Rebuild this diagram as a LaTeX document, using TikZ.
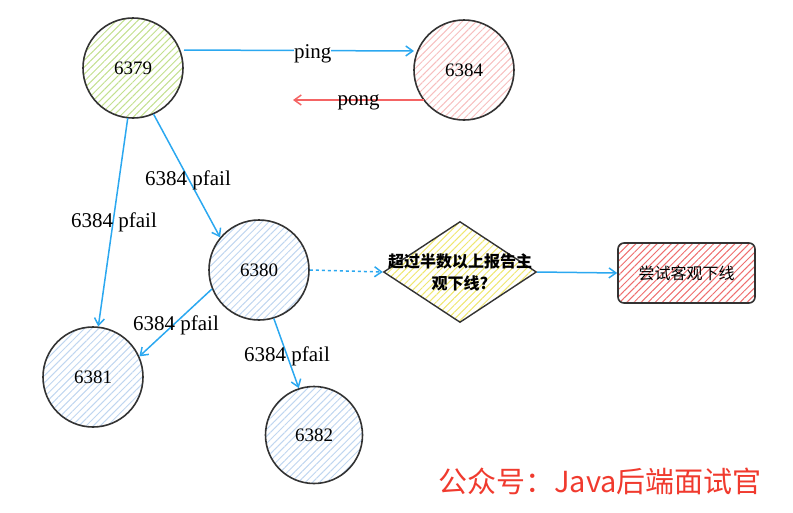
\documentclass[tikz,border=0pt]{standalone}
\usepackage{fontspec}
\setmainfont{Liberation Serif}
\newfontfamily\cjk{Noto Sans CJK SC}
\usetikzlibrary{arrows.meta,patterns.meta,shapes.geometric}
\definecolor{edgeblue}{HTML}{2BA8F0}
\definecolor{pongred}{HTML}{F46464}
\definecolor{ink}{HTML}{333333}
\definecolor{hgreen}{HTML}{C3E08F}
\definecolor{hpink}{HTML}{F7BFBF}
\definecolor{hblue}{HTML}{C0D6F0}
\definecolor{hyellow}{HTML}{EFE770}
\definecolor{hred}{HTML}{EE6E6E}
\definecolor{footred}{HTML}{F03A2E}
\tikzset{
  redis/.style={circle, draw=ink, line width=1.6pt, minimum size=#1, inner sep=0pt, font=\fontsize{19}{21}\selectfont},
  redis/.default=100pt,
  hatch/.style={pattern={Lines[angle=45,distance=5pt,line width=1pt]}, pattern color=#1},
  link/.style={draw=edgeblue, line width=1.5pt, -{Straight Barb[length=7pt,width=10pt]}},
  lbl/.style={font=\fontsize{21}{23}\selectfont, inner sep=1pt},
}
\begin{document}
\begin{tikzpicture}[x=1pt,y=-1pt]
\useasboundingbox (0,0) rectangle (793,512);
% nodes
\node[redis, hatch=hgreen] (n6379) at (133,68) {6379};
\node[redis, hatch=hpink] (n6384) at (464,70) {6384};
\node[redis, hatch=hblue] (n6380) at (259,270) {6380};
\node[redis, hatch=hblue] (n6381) at (93,377) {6381};
\node[redis=97pt, hatch=hblue] (n6382) at (314,435) {6382};
\node[diamond, aspect=1.52, draw=ink, line width=1.4pt, hatch=hyellow, minimum width=153pt, minimum height=101pt, inner sep=0pt] (dec) at (460,272) {};
\node[align=center, font=\cjk\bfseries\fontsize{16}{22}\selectfont, inner sep=0pt] (dectext) at (dec.center) {超过半数以上报告主\\观下线?};
\node[rectangle, rounded corners=6pt, draw=ink, line width=1.6pt, hatch=hred, minimum width=137pt, minimum height=60pt, font=\cjk\fontsize{16}{18}\selectfont] (act) at (686.5,273) {尝试客观下线};
% anchor coordinates
\coordinate (pingS) at (184,50);
\coordinate (pingE) at (414,51);
\coordinate (pongS) at (424,100);
\coordinate (pongE) at (293,100);
% edges
\draw[link] (pingS) -- node[lbl, fill=white, pos=0.56, inner sep=0pt, yshift=-3pt] {ping} (pingE);
\draw[link, draw=pongred] (pongS) -- node[lbl, pos=0.5, inner sep=0pt, yshift=-2pt] {pong} (pongE);
\draw[link] (n6379.-66) -- (n6380.140);
\node[lbl] at (188,180) {6384 pfail};
\draw[link] (n6379.-96) -- (n6381.84);
\node[lbl] at (114,222) {6384 pfail};
\draw[link] (n6380.202) -- (n6381.24);
\node[lbl] at (176,325) {6384 pfail};
\draw[link] (n6380.-73) -- (n6382.108);
\node[lbl] at (287,356) {6384 pfail};
\draw[link, dashed] (n6380.east) -- (dec.west);
\draw[link] (dec.east) -- (act.west);
% footer
\node[font=\cjk\fontsize{29}{32}\selectfont, text=footred] (foot) at (600,481) {公众号：Java后端面试官};
\end{tikzpicture}
\end{document}
